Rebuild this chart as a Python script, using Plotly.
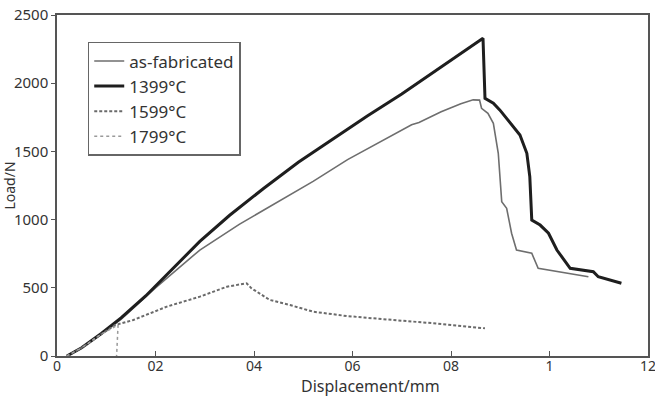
import plotly.graph_objects as go

# ---- data ----
x_asfab = [0.02, 0.05, 0.09, 0.13, 0.20, 0.29, 0.37, 0.45, 0.52, 0.59, 0.66, 0.72, 0.735,
           0.78, 0.82, 0.845, 0.858, 0.862, 0.875, 0.886, 0.896, 0.903, 0.913, 0.923,
           0.933, 0.964, 0.977, 1.021, 1.062, 1.079]
y_asfab = [0, 60, 165, 268, 500, 777, 965, 1130, 1280, 1440, 1580, 1695, 1712,
           1790, 1850, 1878, 1876, 1816, 1779, 1706, 1486, 1131, 1083, 900,
           777, 753, 643, 618, 594, 581]

x_1399 = [0.02, 0.05, 0.09, 0.13, 0.18, 0.23, 0.29, 0.35, 0.42, 0.49, 0.56, 0.63, 0.70,
          0.76, 0.82, 0.865, 0.869, 0.886, 0.899, 0.927, 0.940, 0.954, 0.960, 0.964,
          0.981, 0.998, 1.015, 1.042, 1.089, 1.099, 1.146]
y_1399 = [0, 60, 165, 280, 440, 620, 840, 1030, 1230, 1420, 1590, 1760, 1920,
          2070, 2220, 2330, 1889, 1853, 1804, 1681, 1620, 1486, 1315, 997,
          960, 900, 777, 643, 618, 581, 533]

x_1599 = [0.02, 0.05, 0.09, 0.118, 0.155, 0.223, 0.29, 0.345, 0.385, 0.395, 0.432,
          0.473, 0.520, 0.588, 0.683, 0.764, 0.869]
y_1599 = [0, 60, 160, 227, 264, 362, 435, 508, 533, 496, 411,
          374, 325, 293, 264, 240, 203]

x_1799 = [0.02, 0.05, 0.09, 0.124, 0.121]
y_1799 = [0, 60, 160, 228, 0]

names = ["as-fabricated", "1399°C", "1599°C", "1799°C"]

x_tickvals = [0, 0.2, 0.4, 0.6, 0.8, 1.0, 1.2]
x_ticktext = ["0", "02", "04", "06", "08", "1", "12"]
y_tickvals = [0, 500, 1000, 1500, 2000, 2500]

x_title = "Displacement/mm"
y_title = "Load/N"

FONT = "Noto Sans"

fig = go.Figure()
fig.add_trace(go.Scatter(x=x_asfab, y=y_asfab, mode="lines", name=names[0],
                         line=dict(color="#6e6e6e", width=1.6)))
fig.add_trace(go.Scatter(x=x_1399, y=y_1399, mode="lines", name=names[1],
                         line=dict(color="#1e1e1e", width=3)))
fig.add_trace(go.Scatter(x=x_1599, y=y_1599, mode="lines", name=names[2],
                         line=dict(color="#6a6a6a", width=2, dash="3px,2px")))
fig.add_trace(go.Scatter(x=x_1799, y=y_1799, mode="lines", name=names[3],
                         line=dict(color="#9a9a9a", width=1.5, dash="dot")))

fig.update_layout(
    width=655, height=397,
    margin=dict(l=57, r=7, t=15, b=41),
    paper_bgcolor="white", plot_bgcolor="white",
    font=dict(family=FONT, color="#333333", size=15),
    legend=dict(x=0.052, y=0.921, xanchor="left", yanchor="top",
                bgcolor="white", bordercolor="#666666", borderwidth=1.5,
                font=dict(family=FONT, size=17, color="#333333"),
                itemwidth=30, tracegroupgap=0),
    showlegend=True,
)
fig.add_annotation(text=x_title, xref="paper", yref="paper", x=0.53, y=-41 / 341,
                   xanchor="center", yanchor="bottom", showarrow=False, borderpad=0,
                   yshift=-1, font=dict(family=FONT, size=16, color="#333333"))
fig.update_xaxes(range=[0, 1.2], tickvals=x_tickvals, ticktext=x_ticktext,
                 showgrid=False, zeroline=False, showline=True, linecolor="#555555",
                 linewidth=1.5, mirror=True, ticks="inside", ticklen=5, tickcolor="#555555",
                 tickfont=dict(size=14, color="#333333"), automargin=False,
                 ticklabeloverflow="allow", ticklabelstandoff=-4)
fig.update_yaxes(range=[0, 2500], tickvals=y_tickvals,
                 showgrid=False, zeroline=False, showline=True, linecolor="#555555",
                 linewidth=1.5, mirror=True, ticks="outside", ticklen=4, tickcolor="#555555",
                 tickfont=dict(size=15, color="#333333"), automargin=False,
                 title=dict(text=y_title, font=dict(size=14, color="#333333"), standoff=2))

fig.write_html("out.html", config={"displayModeBar": False},
               post_script="document.body.style.margin='0';")
